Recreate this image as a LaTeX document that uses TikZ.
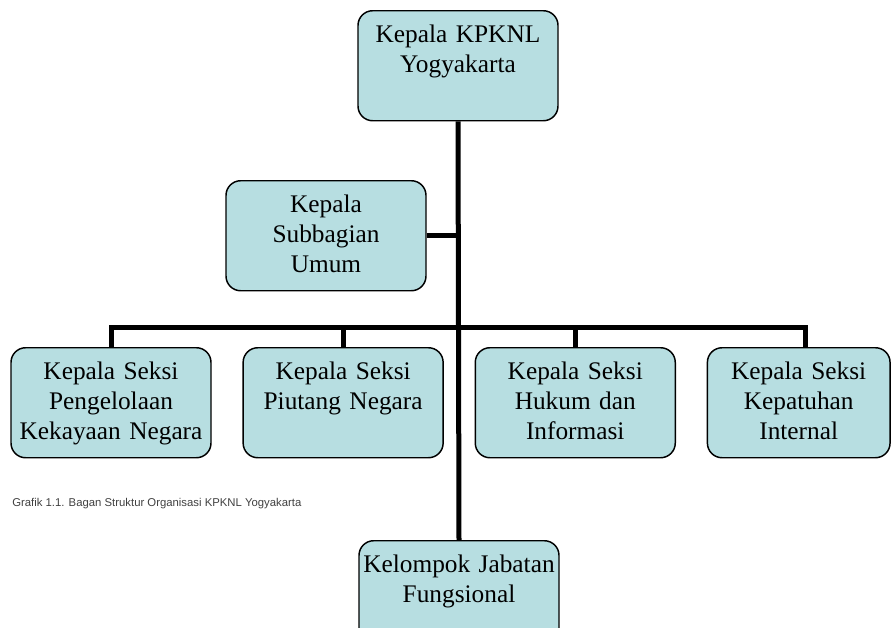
\documentclass[tikz,border=0pt]{standalone}
\usepackage{fontspec}
\setmainfont{Liberation Serif}
\newfontfamily\captionfont{Liberation Sans}
\usepackage{tikz}
\usetikzlibrary{positioning}
\definecolor{unitfill}{RGB}{183,222,225}
\tikzset{
    node distance=23pt, % Gap between the Seksi boxes
    unit/.style={ % Box of one position, text kept at the top
        draw,
        line width=1.1pt,
        rounded corners=11pt,
        fill=unitfill,
        anchor=north,
        align=center,
        text width=146pt,
        inner xsep=2pt,
        inner ysep=4pt,
        text height=20pt,
        text depth=54.5pt,
        font=\fontsize{19}{22.5}\selectfont
    },
    link/.style={ % Thick lines of the chart
        draw,
        line width=3.75pt
    },
    caption/.style={
        anchor=west,
        inner sep=0pt,
        text=black!75,
        font=\captionfont\fontsize{8.5}{10}\selectfont
    }
}

\begin{document}
\begin{tikzpicture}[x=0.75pt, y=-0.75pt]
    \useasboundingbox (0,0) rectangle (893,628);
    \clip (0,0) rectangle (893,628);

    \node[unit] (kepala) at (458,10) {Kepala KPKNL\\Yogyakarta};
    \node[unit] (subbag) at (326,180) {Kepala\\Subbagian\\Umum};

    \node[unit] (seksi1) at (111,347) {Kepala Seksi\\Pengelolaan\\Kekayaan Negara};
    \node[unit, right=of seksi1.north east, anchor=north west] (seksi2) {Kepala Seksi\\Piutang Negara};
    \node[unit, right=of seksi2.north east, anchor=north west] (seksi3) {Kepala Seksi\\Hukum dan\\Informasi};
    \node[unit, right=of seksi3.north east, anchor=north west, text width=133pt] (seksi4) {Kepala Seksi\\Kepatuhan\\Internal};

    \node[unit] (fungsional) at (459,540) {Kelompok Jabatan\\Fungsional};

    \node[caption] (grafik) at (12,504) {Grafik 1.1. Bagan Struktur Organisasi KPKNL Yogyakarta};

    \coordinate (bar) at (458,327);

    \draw[link] (kepala.south) -- (fungsional.north);
    \draw[link] (subbag.east) -- (subbag.east -| kepala.south);
    \draw[link] (seksi1.north) |- (bar) -| ([xshift=5pt]seksi4.north);
    \draw[link] (seksi2.north) -- (seksi2.north |- bar);
    \draw[link] (seksi3.north) -- (seksi3.north |- bar);
\end{tikzpicture}
\end{document}
